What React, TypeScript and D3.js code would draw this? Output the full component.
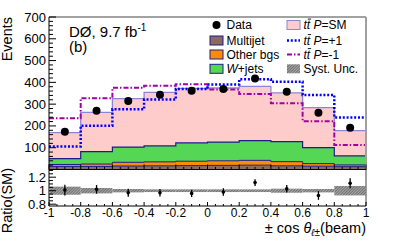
import React from 'react';
import * as d3 from 'd3';

const binCenters = [-0.9, -0.7, -0.5, -0.3, -0.1, 0.1, 0.3, 0.5, 0.7, 0.9];
const multijet = [14, 14, 16, 17, 18, 19, 20, 17, 15, 13];
const otherBgs = [9, 11, 17, 18, 20, 21, 22, 19, 12, 8];
const wJets = [27, 57, 70, 73, 84, 86, 91, 92, 73, 42];
const ttSM = [119, 180, 222, 246, 250, 248, 249, 224, 184, 115];
const ttPplus = [56, 119, 173, 213, 247, 264, 281, 275, 242, 176];
const ttPminus = [185, 245, 272, 277, 269, 241, 213, 176, 122, 49];
const dataCounts = [173, 270, 314, 343, 362, 369, 418, 357, 261, 192];
const ratioValues = [1.01, 1.02, 0.97, 0.97, 0.96, 0.98, 1.12, 1.03, 0.93, 1.11];
const ratioErrors = [0.08, 0.065, 0.06, 0.055, 0.055, 0.055, 0.05, 0.055, 0.065, 0.075];
const systUnc = [0.06, 0.04, 0.025, 0.02, 0.02, 0.02, 0.02, 0.03, 0.025, 0.07];

const yTickValues = [100, 200, 300, 400, 500, 600, 700];
const yTickLabels = ['100', '200', '300', '400', '500', '600', '700'];
const xTickValues = [-1, -0.8, -0.6, -0.4, -0.2, 0, 0.2, 0.4, 0.6, 0.8, 1];
const xTickLabels = ['-1', '-0.8', '-0.6', '-0.4', '-0.2', '0', '0.2', '0.4', '0.6', '0.8', '1'];
const ratioTickValues = [0.8, 1, 1.2];
const ratioTickLabels = ['0.8', '1', '1.2'];
const legendLabels1 = ['Data', 'Multijet', 'Other bgs', '+jets'];
const legendLabels2 = ['=SM', '=+1', '=-1', 'Syst. Unc.'];

const W = 407, H = 242;
const L = 49, R = 366, T = 17, MB = 169.5, RB = 206;
const BW = 0.2;
const FONT = 'Liberation Sans, Arial, Helvetica, sans-serif';

const C = {
  pink: '#ffcccc', pinkLine: '#8a86d6', green: '#55d655', orange: '#ff8c00',
  brown: '#8c6a5c', navy: '#1c1c8c', blue: '#0000ff', magenta: '#a000a8',
};

function TTbar({ x, y, label }: { x: number; y: number; label: string }) {
  return (
    <g>
      <text x={x} y={y} fontSize={12}>
        <tspan fontStyle="italic">tt</tspan> <tspan fontStyle="italic">P</tspan>{label}
      </text>
      <line x1={x + 4.3} x2={x + 7.6} y1={y - 10.2} y2={y - 10.2} stroke="#000" strokeWidth={0.9} />
    </g>
  );
}

export default function App() {
  const x = d3.scaleLinear().domain([-1, 1]).range([L, R]);
  const y = d3.scaleLinear().domain([0, 700]).range([MB, T]);
  const yr = d3.scaleLinear().domain([0.8, 1.2]).range([204.2, 177.2]);

  const cum1 = multijet;
  const cum2 = multijet.map((v, i) => v + otherBgs[i]);
  const cum3 = cum2.map((v, i) => v + wJets[i]);
  const cum4 = cum3.map((v, i) => v + ttSM[i]);
  const totP = cum3.map((v, i) => v + ttPplus[i]);
  const totM = cum3.map((v, i) => v + ttPminus[i]);

  const stepPts = (vals: number[]) => {
    const pts: [number, number][] = binCenters.map((c, i) => [c - BW / 2, vals[i]]);
    pts.push([binCenters[binCenters.length - 1] + BW / 2, vals[vals.length - 1]]);
    return pts;
  };
  const area = (lo: number[], hi: number[]) => {
    const pts = binCenters.map((c, i) => ({ e: c - BW / 2, lo: lo[i], hi: hi[i] }));
    pts.push({ e: binCenters[binCenters.length - 1] + BW / 2, lo: lo[lo.length - 1], hi: hi[hi.length - 1] });
    return d3.area<any>().curve(d3.curveStepAfter).x(d => x(d.e)).y0(d => y(d.lo)).y1(d => y(d.hi))(pts) || '';
  };
  const line = (vals: number[]) =>
    d3.line<[number, number]>().curve(d3.curveStepAfter).x(d => x(d[0])).y(d => y(d[1]))(stepPts(vals)) || '';

  const zeros = binCenters.map(() => 0);
  const minorY = d3.range(0, 701, 20);
  const minorX = d3.range(-1, 1.0001, 0.05);
  const minorR = [0.8, 0.85, 0.9, 0.95, 1, 1.05, 1.1, 1.15, 1.2, 1.25, 1.3];

  const legX1 = 210, legX2 = 287, legRows = [25, 40.5, 54.5, 68.8];
  const fs = 12;

  return (
    <svg width={W} height={H} style={{ position: 'absolute', left: 0, top: 0, background: '#fff' }} fontFamily={FONT}>
      <defs>
        <pattern id="hatch" width="2" height="2" patternUnits="userSpaceOnUse" patternTransform="rotate(45)">
          <rect width="2" height="2" fill="#a8a8a8" />
          <line x1="0" y1="0" x2="0" y2="2" stroke="#2a2a2a" strokeWidth="0.9" />
        </pattern>
        <clipPath id="mainClip"><rect x={L} y={T} width={R - L} height={MB - T} /></clipPath>
      </defs>

      {/* stacked histogram */}
      <g clipPath="url(#mainClip)">
        <path d={area(cum3, cum4)} fill={C.pink} />
        <path d={area(cum2, cum3)} fill={C.green} />
        <path d={area(cum1, cum2)} fill={C.orange} />
        <path d={area(zeros, cum1)} fill={C.brown} />
        <path d={line(cum4)} fill="none" stroke={C.pinkLine} strokeWidth={1.3} />
        <path d={line(cum3)} fill="none" stroke={C.navy} strokeWidth={1.2} />
        <path d={line(cum2)} fill="none" stroke={C.navy} strokeWidth={1} />
        <path d={line(cum1)} fill="none" stroke={C.navy} strokeWidth={1} />
        <path d={line(totM)} fill="none" stroke={C.magenta} strokeWidth={2} strokeDasharray="5,2,1.5,2" />
        <path d={line(totP)} fill="none" stroke={C.blue} strokeWidth={2.5} strokeDasharray="2,1.8" />
        {binCenters.map((c, i) => (
          <circle key={i} cx={x(c)} cy={y(dataCounts[i])} r={4} fill="#000" />
        ))}
      </g>

      {/* main frame and axes */}
      <line x1={L} x2={R} y1={T} y2={T} stroke="#444" strokeWidth={1} />
      <line x1={R} x2={R} y1={T} y2={RB} stroke="#a0a0a0" strokeWidth={2} />
      <line x1={L} x2={L} y1={T} y2={RB} stroke="#000" strokeWidth={1} />
      <line x1={L} x2={R} y1={MB} y2={MB} stroke="#000" strokeWidth={1} />
      <line x1={L} x2={R} y1={RB} y2={RB} stroke="#000" strokeWidth={1} />
      {minorY.map(v => (
        <line key={'my' + v} x1={L} x2={L + (v % 100 === 0 ? 7 : 4)} y1={y(v)} y2={y(v)} stroke="#000" strokeWidth={1} />
      ))}
      {yTickValues.map((v, i) => (
        <text key={'yl' + v} x={46} y={y(v) + 4.5} textAnchor="end" fontSize={13}>{yTickLabels[i]}</text>
      ))}
      {minorX.map((v, i) => (
        <g key={'mx' + i}>
          <line x1={x(v)} x2={x(v)} y1={MB} y2={MB - (i % 4 === 0 ? 5 : 2.5)} stroke="#000" strokeWidth={1} />
          <line x1={x(v)} x2={x(v)} y1={RB} y2={RB - (i % 4 === 0 ? 4 : 2)} stroke="#000" strokeWidth={1} />
        </g>
      ))}
      {xTickValues.map((v, i) => (
        <text key={'xl' + i} x={x(v)} y={217} textAnchor="middle" fontSize={12}>{xTickLabels[i]}</text>
      ))}

      {/* ratio panel */}
      {binCenters.map((c, i) => (
        <rect key={'sb' + i} x={x(c - BW / 2)} width={x(c + BW / 2) - x(c - BW / 2)}
          y={yr(1 + systUnc[i])} height={yr(1 - systUnc[i]) - yr(1 + systUnc[i])} fill="url(#hatch)" />
      ))}
      {minorR.map((v, i) => (
        <line key={'mr' + i} x1={L} x2={L + (ratioTickValues.includes(v) ? 7 : 4)} y1={yr(v)} y2={yr(v)} stroke="#000" strokeWidth={1} />
      ))}
      {ratioTickValues.map((v, i) => (
        <text key={'rl' + i} x={46} y={yr(v) + 4.5} textAnchor="end" fontSize={13}>{ratioTickLabels[i]}</text>
      ))}
      {binCenters.map((c, i) => (
        <g key={'rp' + i}>
          <line x1={x(c)} x2={x(c)} y1={yr(ratioValues[i] + ratioErrors[i])} y2={yr(ratioValues[i] - ratioErrors[i])} stroke="#000" strokeWidth={1.3} />
          <circle cx={x(c)} cy={yr(ratioValues[i])} r={1.8} fill="#000" />
        </g>
      ))}

      {/* axis titles */}
      <text transform={`translate(12,${T}) rotate(-90)`} textAnchor="end" fontSize={14.5}>Events</text>
      <text transform={`translate(12,168) rotate(-90)`} textAnchor="end" fontSize={14.5}>Ratio(SM)</text>
      <text x={R} y={233} textAnchor="end" fontSize={14.5}>
        ± cos <tspan fontStyle="italic">θ</tspan><tspan fontSize={10} dy={3} fontStyle="italic">ℓ</tspan><tspan fontSize={10}>±</tspan><tspan dy={-3}>(beam)</tspan>
      </text>

      {/* experiment label */}
      <text x={69} y={36.5} fontSize={15}>DØ, 9.7 fb<tspan fontSize={10} dy={-6}>-1</tspan></text>
      <text x={69} y={52} fontSize={15}>(b)</text>

      {/* legend column 1 */}
      <circle cx={legX1 + 6.5} cy={legRows[0]} r={4} fill="#000" />
      <text x={226.5} y={legRows[0] + 4.3} fontSize={fs}>{legendLabels1[0]}</text>
      <rect x={legX1} y={legRows[1] - 4.5} width={13} height={9} fill={C.brown} stroke={C.navy} strokeWidth={1} />
      <text x={226.5} y={legRows[1] + 4.3} fontSize={fs}>{legendLabels1[1]}</text>
      <rect x={legX1} y={legRows[2] - 4.5} width={13} height={9} fill={C.orange} stroke={C.navy} strokeWidth={1} />
      <text x={226.5} y={legRows[2] + 4.3} fontSize={fs}>{legendLabels1[2]}</text>
      <rect x={legX1} y={legRows[3] - 4.5} width={13} height={9} fill={C.green} stroke={C.navy} strokeWidth={1} />
      <text x={226.5} y={legRows[3] + 4.3} fontSize={fs}><tspan fontStyle="italic">W</tspan>{legendLabels1[3]}</text>

      {/* legend column 2 */}
      <rect x={legX2} y={legRows[0] - 4.5} width={13} height={9} fill={C.pink} stroke={C.pinkLine} strokeWidth={1} />
      <TTbar x={303.5} y={legRows[0] + 4.3} label={legendLabels2[0]} />
      <line x1={legX2} x2={legX2 + 13} y1={legRows[1]} y2={legRows[1]} stroke={C.blue} strokeWidth={2.5} strokeDasharray="2,1.8" />
      <TTbar x={303.5} y={legRows[1] + 4.3} label={legendLabels2[1]} />
      <line x1={legX2} x2={legX2 + 13} y1={legRows[2]} y2={legRows[2]} stroke={C.magenta} strokeWidth={2} strokeDasharray="5,2,1.5,2" />
      <TTbar x={303.5} y={legRows[2] + 4.3} label={legendLabels2[2]} />
      <rect x={legX2} y={legRows[3] - 4.5} width={13} height={9} fill="url(#hatch)" />
      <text x={303.5} y={legRows[3] + 4.3} fontSize={fs}>{legendLabels2[3]}</text>
    </svg>
  );
}
